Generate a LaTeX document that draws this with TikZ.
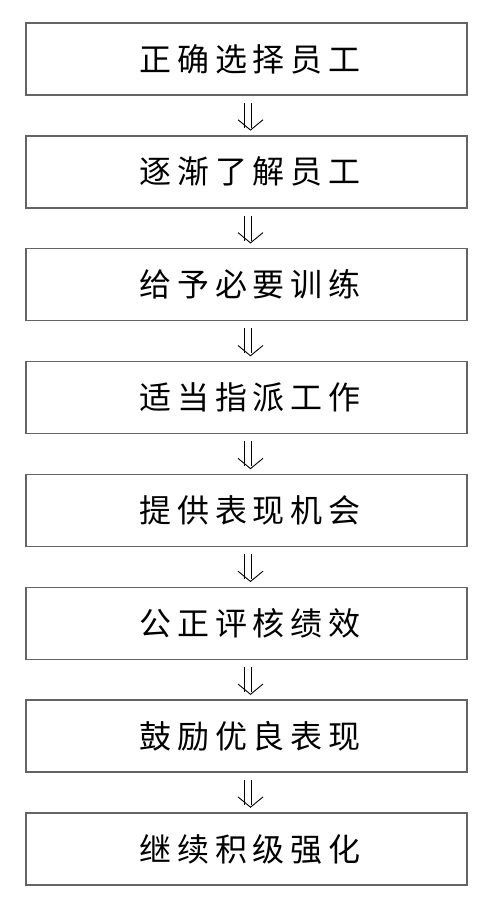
\documentclass[tikz,border=0pt]{standalone}
\usepackage{fontspec}
\newfontfamily\cjk[LetterSpace=18]{Noto Sans CJK SC}
\begin{document}
\begin{tikzpicture}[x=1pt,y=-1pt,
  stepbox/.style={draw={rgb,255:red,100;green,100;blue,100},line width=1.5pt,minimum width=441pt,minimum height=72pt,inner sep=0pt,font=\cjk\fontsize{32pt}{32pt}\selectfont},
  arrline/.style={draw=black,line width=0.9pt}]
\useasboundingbox (0,0) rectangle (494,908);
\foreach \t [count=\i from 0] in {正确选择员工,逐渐了解员工,给予必要训练,适当指派工作,提供表现机会,公正评核绩效,鼓励优良表现,继续积级强化}{
  \node[stepbox] (b\i) at (246.5,{59+112.857*\i}) {\hspace*{7pt}\t};
}
\foreach \i in {0,...,6}{
  \draw[arrline] (b\i.south) ++(-2.5,7) -- ++(0,25);
  \draw[arrline] (b\i.south) ++(4.5,7) -- ++(0,25);
  \draw[arrline] (b\i.south) ++(-8.5,24) -- ++(12.5,10.3) -- ++(12.5,-10.3);
}
\end{tikzpicture}
\end{document}
